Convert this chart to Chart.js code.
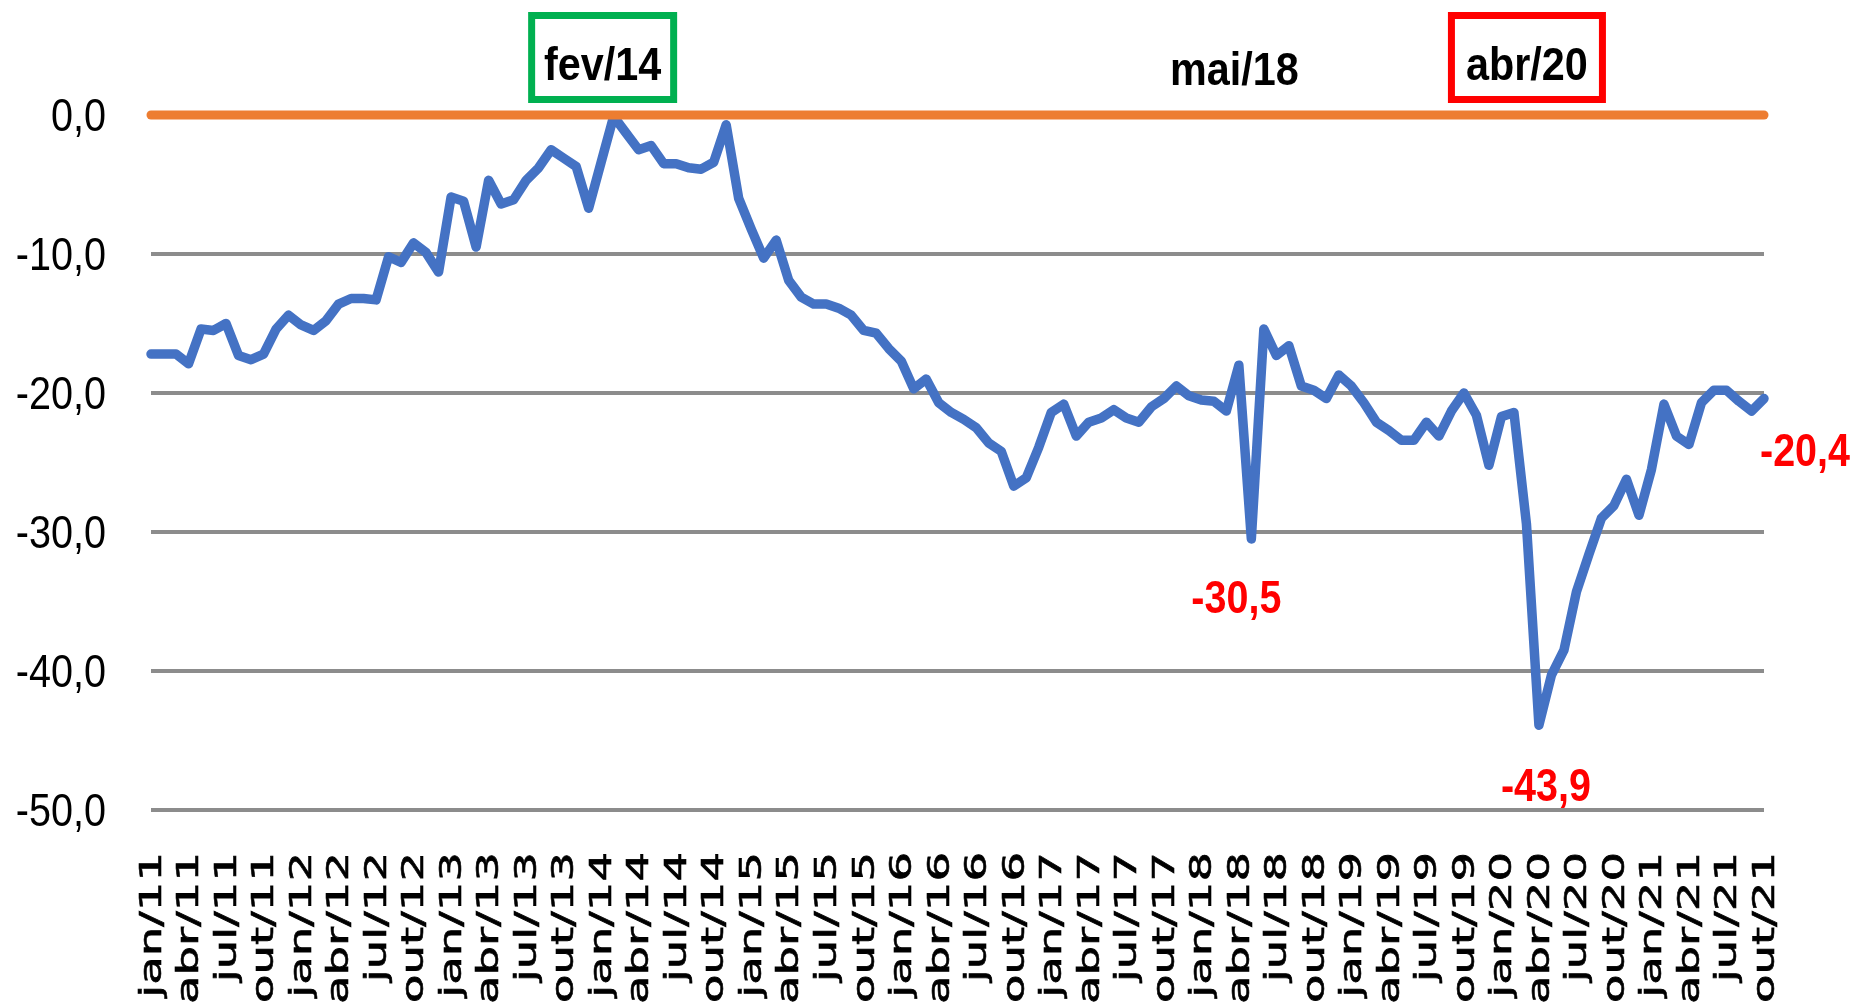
<!DOCTYPE html>
<html>
<head>
<meta charset="utf-8">
<script src="https://cdn.jsdelivr.net/npm/chart.js@4.4.0/dist/chart.umd.min.js"></script>
<style>
  html, body { margin: 0; padding: 0; background: #fff; }
  #wrap { width: 1853px; height: 1004px; }
</style>
</head>
<body>
<div id="wrap"><canvas id="myChart"></canvas></div>
<script>
// meses jan/11 .. out/21
const months = ["jan", "fev", "mar", "abr", "mai", "jun", "jul", "ago", "set", "out", "nov", "dez"];
const years = ["11", "12", "13", "14", "15", "16", "17", "18", "19", "20", "21"];
const categories = [];
years.forEach(y => months.forEach(m => categories.push(m + "/" + y)));
categories.length = 130;

const values = [
  -17.2, -17.2, -17.2, -17.9, -15.4, -15.5, -15.0, -17.3, -17.6, -17.2, -15.4, -14.4,
  -15.1, -15.5, -14.8, -13.6, -13.2, -13.2, -13.3, -10.2, -10.6, -9.2, -9.9, -11.3,
  -5.9, -6.2, -9.5, -4.7, -6.4, -6.1, -4.7, -3.8, -2.5, -3.1, -3.7, -6.7,
  -3.4, -0.1, -1.3, -2.5, -2.2, -3.5, -3.5, -3.8, -3.9, -3.4, -0.7, -6.0,
  -8.2, -10.3, -9.0, -11.9, -13.1, -13.6, -13.6, -13.9, -14.4, -15.5, -15.7, -16.8,
  -17.7, -19.7, -19.0, -20.7, -21.4, -21.9, -22.5, -23.6, -24.2, -26.7, -26.1, -23.9,
  -21.4, -20.8, -23.1, -22.1, -21.8, -21.2, -21.8, -22.1, -21.0, -20.4, -19.5, -20.2,
  -20.5, -20.6, -21.3, -18.0, -30.5, -15.4, -17.3, -16.6, -19.5, -19.8, -20.4, -18.7,
  -19.5, -20.7, -22.1, -22.7, -23.4, -23.4, -22.1, -23.1, -21.3, -20.0, -21.6, -25.2,
  -21.7, -21.4, -29.4, -43.9, -40.3, -38.5, -34.3, -31.6, -29.0, -28.1, -26.2, -28.8,
  -25.5, -20.8, -23.1, -23.7, -20.7, -19.8, -19.8, -20.6, -21.3, -20.4
];
// linha de referencia em zero
const zeroLine = new Array(categories.length).fill(0);

const yTicks = [0, -10, -20, -30, -40, -50];
const topMarks = [37, 88, 111];        // fev/14, mai/18, abr/20
const valueMarks = [88, 111, 129];     // -30,5 / -43,9 / -20,4

const fmt = v => v.toFixed(1).replace('.', ',');

// texto "estreito": escala horizontal sobre uma fonte normal
function narrowText(ctx, txt, x, y, sx) {
  ctx.save();
  ctx.translate(x, y);
  ctx.scale(sx, 1);
  ctx.fillText(txt, 0, 0);
  ctx.restore();
}

// rotulos dos eixos
const axisLabels = {
  id: 'axisLabels',
  afterDraw(chart) {
    const ctx = chart.ctx;
    const x = chart.scales.x;
    const y = chart.scales.y;
    const area = chart.chartArea;
    ctx.save();
    ctx.fillStyle = '#000';
    ctx.strokeStyle = '#000';

    // eixo y
    ctx.font = '46px "Liberation Sans"';
    ctx.textAlign = 'right';
    ctx.textBaseline = 'middle';
    yTicks.forEach(v => narrowText(ctx, fmt(v), area.left - 45, y.getPixelForValue(v) + 3, 0.86));

    // eixo x, texto vertical alongado
    const top = area.bottom + 42;
    ctx.font = '30px "DejaVu Sans"';
    ctx.lineWidth = 0.6;
    categories.forEach((lab, i) => {
      if (i % 3 !== 0) return;
      ctx.save();
      ctx.translate(x.getPixelForValue(i) + 2, top);
      ctx.rotate(-Math.PI / 2);
      ctx.scale(1.55, 1);
      ctx.fillText(lab, 0, 0);
      ctx.strokeText(lab, 0, 0);
      ctx.restore();
    });
    ctx.restore();
  }
};

const notes = {
  id: 'notes',
  afterDraw(chart) {
    const ctx = chart.ctx;
    const x = chart.scales.x;
    const pts = chart.getDatasetMeta(0).data;
    ctx.save();
    ctx.font = 'bold 47px "Liberation Sans"';
    ctx.textAlign = 'center';
    ctx.textBaseline = 'alphabetic';

    // fev/14 (verde), mai/18, abr/20 (vermelho)
    const dx = [-11, -17, -12];
    const base = [80, 85, 80];
    const boxW = [149, 0, 158];
    const boxC = ['#00B050', null, '#FF0000'];
    topMarks.forEach((idx, k) => {
      const cx = x.getPixelForValue(idx) + dx[k];
      if (boxC[k]) {
        ctx.strokeStyle = boxC[k];
        ctx.lineWidth = 7;
        ctx.strokeRect(cx - boxW[k] / 2 + 3.5, 15.5, boxW[k] - 7, 84);
      }
      ctx.fillStyle = '#000';
      narrowText(ctx, categories[idx], cx, base[k], 0.88);
    });

    // valores em vermelho
    const vdx = [-15, 7, 41];
    const vdy = [74, 76, 67];
    ctx.fillStyle = '#FF0000';
    valueMarks.forEach((idx, k) => {
      const p = pts[idx];
      narrowText(ctx, fmt(values[idx]), p.x + vdx[k], p.y + vdy[k], 0.84);
    });
    ctx.restore();
  }
};

const ctx = document.getElementById('myChart').getContext('2d');
const chart = new Chart(ctx, {
  type: 'line',
  data: {
    labels: categories,
    datasets: [
      {
        label: 'Indicador',
        data: values,
        borderColor: '#4472C4',
        borderWidth: 9.5,
        pointRadius: 0,
        tension: 0,
        borderJoinStyle: 'round',
        borderCapStyle: 'round',
        clip: false,
        order: 1
      },
      {
        label: 'Zero',
        data: zeroLine,
        borderColor: '#ED7D31',
        borderWidth: 9,
        pointRadius: 0,
        borderCapStyle: 'round',
        clip: false,
        order: 0
      }
    ]
  },
  options: {
    responsive: true,
    maintainAspectRatio: false,
    animation: false,
    layout: { padding: { top: 115, right: 89, left: 0, bottom: 0 } },
    plugins: {
      legend: { display: false },
      tooltip: { enabled: false }
    },
    scales: {
      x: {
        grid: { display: false },
        border: { display: false },
        ticks: { display: false },
        afterFit: s => { s.height = 194; }
      },
      y: {
        min: -50,
        max: 0,
        afterBuildTicks: s => { s.ticks = yTicks.map(v => ({ value: v })); },
        ticks: { display: false },
        grid: { color: '#8c8c8c', lineWidth: 4, drawTicks: false },
        border: { display: false },
        afterFit: s => { s.width = 151; }
      }
    }
  },
  plugins: [axisLabels, notes]
});
</script>
</body>
</html>
